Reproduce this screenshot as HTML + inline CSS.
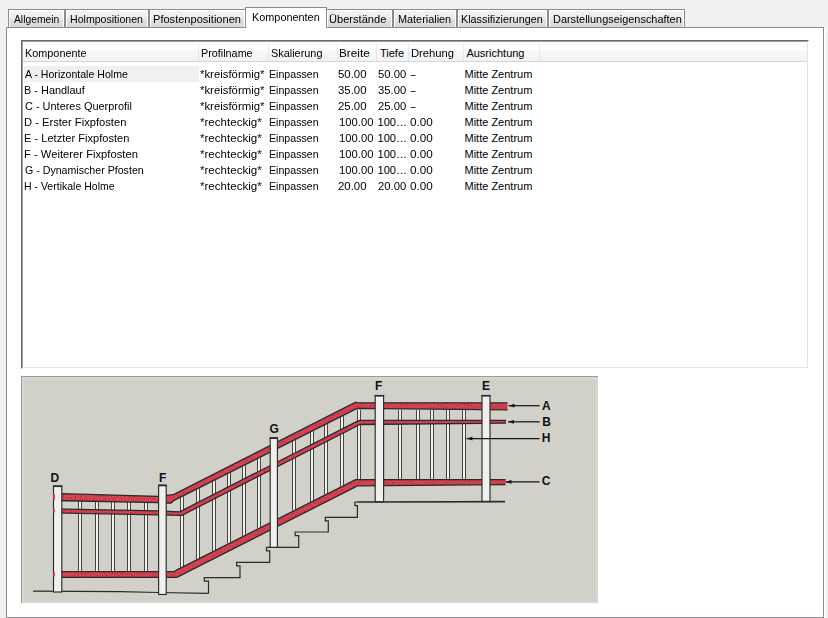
<!DOCTYPE html>
<html><head><meta charset="utf-8">
<style>
*{box-sizing:border-box;margin:0;padding:0}
html,body{width:828px;height:618px;overflow:hidden;background:#f0f0f0;font-family:"Liberation Sans",sans-serif;font-size:11px;color:#000}
span{position:absolute;white-space:nowrap;line-height:13px;transform-origin:0 0}
.tab{position:absolute;top:9px;height:19px;border:1px solid #898c95;border-bottom:none;background:linear-gradient(#f3f3f3 0,#ececec 50%,#e1e1e1 50%,#d6d6d6 100%);box-shadow:inset 1px 1px 0 #fff,inset -1px 0 0 #fff}
.sel{position:absolute;top:7px;height:21px;left:245px;width:82px;border:1px solid #898c95;border-bottom:none;background:#fff;z-index:3}
#panel{position:absolute;left:6px;top:27px;width:818px;height:591px;border:1px solid #898c95;background:#fff;z-index:2}
#lv{position:absolute;left:21px;top:40px;width:788px;height:329px;border-top:1px solid #696969;border-left:1px solid #696969;border-right:1px solid #fff;border-bottom:1px solid #fff;z-index:4}
#lvi{position:absolute;left:0;top:0;right:0;bottom:0;border-top:1px solid #a0a0a0;border-left:1px solid #a0a0a0;border-right:1px solid #e3e3e3;border-bottom:1px solid #e3e3e3;background:#fff}
#hdr{position:absolute;left:0;top:0;right:0;height:20px;background:linear-gradient(#fff 0,#fff 40%,#f7f8f9 45%,#f1f2f4 100%);border-bottom:1px solid #d5d5d5}
.sep{position:absolute;top:1px;width:1px;height:18px;background:linear-gradient(#eceef0,#e0e2e5)}
#selrow{position:absolute;left:1px;top:24px;width:175px;height:16px;background:#f0f0f0}
#rs{position:absolute;left:824px;top:27px;width:2px;height:591px;background:#fbfbfb}

</style></head><body>
<div class="tab" style="left:8px;width:57px"><span class="t" style="left:5.0px;top:3px;transform:scaleX(0.936)">Allgemein</span></div>
<div class="tab" style="left:65px;width:84px"><span class="t" style="left:3.74px;top:3px;transform:scaleX(0.962)">Holmpositionen</span></div>
<div class="tab" style="left:149px;width:97px"><span class="t" style="left:3.29px;top:3px;transform:scaleX(1.006)">Pfostenpositionen</span></div>
<div class="tab" style="left:326px;width:67px"><span class="t" style="left:2.19px;top:3px;transform:scaleX(1.009)">Überstände</span></div>
<div class="tab" style="left:393px;width:64px"><span class="t" style="left:3.81px;top:3px;transform:scaleX(0.988)">Materialien</span></div>
<div class="tab" style="left:457px;width:91px"><span class="t" style="left:3.15px;top:3px;transform:scaleX(0.982)">Klassifizierungen</span></div>
<div class="tab" style="left:548px;width:137px"><span class="t" style="left:4.02px;top:3px;transform:scaleX(0.993)">Darstellungseigenschaften</span></div>
<div class="sel"><span class="t" style="left:5.61px;top:3px;transform:scaleX(0.988)">Komponenten</span></div>
<div id="panel"></div><div id="rs"></div>
<div id="lv"><div id="lvi">
<div id="hdr">
<div class="sep" style="left:175px"></div>
<div class="sep" style="left:245px"></div>
<div class="sep" style="left:314px"></div>
<div class="sep" style="left:353px"></div>
<div class="sep" style="left:385px"></div>
<div class="sep" style="left:440px"></div>
<div class="sep" style="left:516px"></div>
<span class="h" style="left:1.81px;top:5px;transform:scaleX(0.987)">Komponente</span>
<span class="h" style="left:177.92px;top:5px;transform:scaleX(0.982)">Profilname</span>
<span class="h" style="left:247.81px;top:5px;transform:scaleX(0.990)">Skalierung</span>
<span class="h" style="left:316.23px;top:5px;transform:scaleX(1.069)">Breite</span>
<span class="h" style="left:357.0px;top:5px">Tiefe</span>
<span class="h" style="left:387.58px;top:5px;transform:scaleX(1.020)">Drehung</span>
<span class="h" style="left:443.4px;top:5px">Ausrichtung</span>
</div>
<div id="selrow"></div>
<span class="r" style="left:1.9px;top:26px;transform:scaleX(0.961)">A - Horizontale Holme</span>
<span class="r" style="left:177.08px;top:26px;transform:scaleX(1.033)">*kreisförmig*</span>
<span class="r" style="left:246.41px;top:26px;transform:scaleX(0.965)">Einpassen</span>
<span class="r" style="left:315.38px;top:26px;transform:scaleX(1.035)">50.00</span>
<span class="r" style="left:354.59px;top:26px;transform:scaleX(1.023)">50.00</span>
<span class="r" style="left:387.0px;top:26px;transform:scaleX(1.700)">-</span>
<span class="r" style="left:441.5px;top:26px">Mitte Zentrum</span>
<span class="r" style="left:1.01px;top:42px;transform:scaleX(0.993)">B - Handlauf</span>
<span class="r" style="left:177.08px;top:42px;transform:scaleX(1.033)">*kreisförmig*</span>
<span class="r" style="left:246.41px;top:42px;transform:scaleX(0.965)">Einpassen</span>
<span class="r" style="left:315.38px;top:42px;transform:scaleX(1.035)">35.00</span>
<span class="r" style="left:354.59px;top:42px;transform:scaleX(1.023)">35.00</span>
<span class="r" style="left:387.0px;top:42px;transform:scaleX(1.700)">-</span>
<span class="r" style="left:441.5px;top:42px">Mitte Zentrum</span>
<span class="r" style="left:2.0px;top:58px;transform:scaleX(0.994)">C - Unteres Querprofil</span>
<span class="r" style="left:177.08px;top:58px;transform:scaleX(1.033)">*kreisförmig*</span>
<span class="r" style="left:246.41px;top:58px;transform:scaleX(0.965)">Einpassen</span>
<span class="r" style="left:315.38px;top:58px;transform:scaleX(1.035)">25.00</span>
<span class="r" style="left:354.59px;top:58px;transform:scaleX(1.023)">25.00</span>
<span class="r" style="left:387.0px;top:58px;transform:scaleX(1.700)">-</span>
<span class="r" style="left:441.5px;top:58px">Mitte Zentrum</span>
<span class="r" style="left:0.98px;top:74px;transform:scaleX(1.015)">D - Erster Fixpfosten</span>
<span class="r" style="left:177.07px;top:74px;transform:scaleX(1.051)">*rechteckig*</span>
<span class="r" style="left:246.41px;top:74px;transform:scaleX(0.965)">Einpassen</span>
<span class="r" style="left:315.58px;top:74px;transform:scaleX(1.022)">100.00</span>
<span class="r" style="left:354.6px;top:74px">100…</span>
<span class="r" style="left:386.7px;top:74px;transform:scaleX(1.065)">0.00</span>
<span class="r" style="left:441.5px;top:74px">Mitte Zentrum</span>
<span class="r" style="left:0.99px;top:90px;transform:scaleX(1.008)">E - Letzter Fixpfosten</span>
<span class="r" style="left:177.07px;top:90px;transform:scaleX(1.051)">*rechteckig*</span>
<span class="r" style="left:246.41px;top:90px;transform:scaleX(0.965)">Einpassen</span>
<span class="r" style="left:315.58px;top:90px;transform:scaleX(1.022)">100.00</span>
<span class="r" style="left:354.6px;top:90px">100…</span>
<span class="r" style="left:386.7px;top:90px;transform:scaleX(1.065)">0.00</span>
<span class="r" style="left:441.5px;top:90px">Mitte Zentrum</span>
<span class="r" style="left:0.98px;top:106px;transform:scaleX(1.020)">F - Weiterer Fixpfosten</span>
<span class="r" style="left:177.07px;top:106px;transform:scaleX(1.051)">*rechteckig*</span>
<span class="r" style="left:246.41px;top:106px;transform:scaleX(0.965)">Einpassen</span>
<span class="r" style="left:315.58px;top:106px;transform:scaleX(1.022)">100.00</span>
<span class="r" style="left:354.6px;top:106px">100…</span>
<span class="r" style="left:386.7px;top:106px;transform:scaleX(1.065)">0.00</span>
<span class="r" style="left:441.5px;top:106px">Mitte Zentrum</span>
<span class="r" style="left:2.0px;top:122px;transform:scaleX(0.966)">G - Dynamischer Pfosten</span>
<span class="r" style="left:177.07px;top:122px;transform:scaleX(1.051)">*rechteckig*</span>
<span class="r" style="left:246.41px;top:122px;transform:scaleX(0.965)">Einpassen</span>
<span class="r" style="left:315.58px;top:122px;transform:scaleX(1.022)">100.00</span>
<span class="r" style="left:354.6px;top:122px">100…</span>
<span class="r" style="left:386.7px;top:122px;transform:scaleX(1.065)">0.00</span>
<span class="r" style="left:441.5px;top:122px">Mitte Zentrum</span>
<span class="r" style="left:1.04px;top:138px;transform:scaleX(0.956)">H - Vertikale Holme</span>
<span class="r" style="left:177.07px;top:138px;transform:scaleX(1.051)">*rechteckig*</span>
<span class="r" style="left:246.41px;top:138px;transform:scaleX(0.965)">Einpassen</span>
<span class="r" style="left:315.38px;top:138px;transform:scaleX(1.035)">20.00</span>
<span class="r" style="left:354.59px;top:138px;transform:scaleX(1.023)">20.00</span>
<span class="r" style="left:386.7px;top:138px;transform:scaleX(1.065)">0.00</span>
<span class="r" style="left:441.5px;top:138px">Mitte Zentrum</span>
</div></div>
<svg width="577" height="227" viewBox="21 376 577 227" style="position:absolute;left:21px;top:376px;z-index:5">
<defs><filter id="nz" x="0" y="0" width="100%" height="100%"><feTurbulence type="fractalNoise" baseFrequency="0.9" numOctaves="2" seed="3" result="n"/><feColorMatrix in="n" type="matrix" values="0 0 0 0 0  0 0 0 0 0  0 0 0 0 0  0 0 0 -2.2 1.25" result="a"/><feComposite in="SourceGraphic" in2="a" operator="in"/></filter></defs>
<rect x="21" y="376" width="577" height="227" fill="#d1d1c9"/>
<rect x="22" y="377" width="2" height="226" fill="#d7d7cf"/>
<rect x="22" y="377" width="576" height="2" fill="#d7d7cf"/>
<rect x="596" y="377" width="2" height="226" fill="#d7d7cf"/>
<rect x="22" y="601" width="576" height="2" fill="#d7d7cf"/>
<rect x="21" y="376" width="577" height="1" fill="#9c9c9c"/>
<rect x="21" y="376" width="1" height="227" fill="#9c9c9c"/>
<polyline points="33.0,591.2 120.0,591.6 158.0,592.5 208.5,593.4" stroke="#2a2a2a" stroke-width="1.2" fill="none"/>
<polyline points="208.5,593.4 208.5,581.2 204.3,581.2 204.3,577.6 240.0,577.6 240.0,565.9 236.6,565.9 236.6,562.3 269.7,562.3 269.7,550.9 266.5,550.9 266.5,547.3 298.7,547.3 298.7,535.6 295.2,535.6 295.2,532.0 328.3,532.0 328.3,520.9 325.3,520.9 325.3,517.3 357.4,517.3 357.4,505.6 354.9,505.6 354.9,502.0 505.0,502.0" stroke="#2a2a2a" stroke-width="1.2" fill="none"/>
<rect x="78.5" y="501.0" width="3.0" height="70.6" fill="#f0f0ee"/><line x1="78.5" y1="501.0" x2="78.5" y2="571.6" stroke="#2a2a2a" stroke-width="0.95" opacity="0.9"/><line x1="81.5" y1="501.0" x2="81.5" y2="571.6" stroke="#2a2a2a" stroke-width="0.95" opacity="0.9"/>
<rect x="95.5" y="501.4" width="3.0" height="70.2" fill="#f0f0ee"/><line x1="95.5" y1="501.4" x2="95.5" y2="571.6" stroke="#2a2a2a" stroke-width="0.95" opacity="0.9"/><line x1="98.5" y1="501.4" x2="98.5" y2="571.6" stroke="#2a2a2a" stroke-width="0.95" opacity="0.9"/>
<rect x="111.5" y="501.7" width="3.0" height="69.9" fill="#f0f0ee"/><line x1="111.5" y1="501.7" x2="111.5" y2="571.6" stroke="#2a2a2a" stroke-width="0.95" opacity="0.9"/><line x1="114.5" y1="501.7" x2="114.5" y2="571.6" stroke="#2a2a2a" stroke-width="0.95" opacity="0.9"/>
<rect x="127.5" y="502.0" width="3.0" height="69.6" fill="#f0f0ee"/><line x1="127.5" y1="502.0" x2="127.5" y2="571.6" stroke="#2a2a2a" stroke-width="0.95" opacity="0.9"/><line x1="130.5" y1="502.0" x2="130.5" y2="571.6" stroke="#2a2a2a" stroke-width="0.95" opacity="0.9"/>
<rect x="144.5" y="502.3" width="3.0" height="69.3" fill="#f0f0ee"/><line x1="144.5" y1="502.3" x2="144.5" y2="571.6" stroke="#2a2a2a" stroke-width="0.95" opacity="0.9"/><line x1="147.5" y1="502.3" x2="147.5" y2="571.6" stroke="#2a2a2a" stroke-width="0.95" opacity="0.9"/>
<rect x="180.5" y="496.4" width="3.0" height="71.0" fill="#f0f0ee"/><line x1="180.5" y1="496.4" x2="180.5" y2="567.3" stroke="#2a2a2a" stroke-width="0.95" opacity="0.9"/><line x1="183.5" y1="496.4" x2="183.5" y2="567.3" stroke="#2a2a2a" stroke-width="0.95" opacity="0.9"/>
<rect x="196.5" y="488.2" width="3.0" height="70.9" fill="#f0f0ee"/><line x1="196.5" y1="488.2" x2="196.5" y2="559.1" stroke="#2a2a2a" stroke-width="0.95" opacity="0.9"/><line x1="199.5" y1="488.2" x2="199.5" y2="559.1" stroke="#2a2a2a" stroke-width="0.95" opacity="0.9"/>
<rect x="212.5" y="480.3" width="3.0" height="70.9" fill="#f0f0ee"/><line x1="212.5" y1="480.3" x2="212.5" y2="551.2" stroke="#2a2a2a" stroke-width="0.95" opacity="0.9"/><line x1="215.5" y1="480.3" x2="215.5" y2="551.2" stroke="#2a2a2a" stroke-width="0.95" opacity="0.9"/>
<rect x="227.5" y="472.7" width="3.0" height="70.8" fill="#f0f0ee"/><line x1="227.5" y1="472.7" x2="227.5" y2="543.5" stroke="#2a2a2a" stroke-width="0.95" opacity="0.9"/><line x1="230.5" y1="472.7" x2="230.5" y2="543.5" stroke="#2a2a2a" stroke-width="0.95" opacity="0.9"/>
<rect x="242.5" y="465.2" width="3.0" height="70.8" fill="#f0f0ee"/><line x1="242.5" y1="465.2" x2="242.5" y2="536.0" stroke="#2a2a2a" stroke-width="0.95" opacity="0.9"/><line x1="245.5" y1="465.2" x2="245.5" y2="536.0" stroke="#2a2a2a" stroke-width="0.95" opacity="0.9"/>
<rect x="257.5" y="457.5" width="3.0" height="70.7" fill="#f0f0ee"/><line x1="257.5" y1="457.5" x2="257.5" y2="528.2" stroke="#2a2a2a" stroke-width="0.95" opacity="0.9"/><line x1="260.5" y1="457.5" x2="260.5" y2="528.2" stroke="#2a2a2a" stroke-width="0.95" opacity="0.9"/>
<rect x="292.5" y="440.1" width="3.0" height="70.6" fill="#f0f0ee"/><line x1="292.5" y1="440.1" x2="292.5" y2="510.7" stroke="#2a2a2a" stroke-width="0.95" opacity="0.9"/><line x1="295.5" y1="440.1" x2="295.5" y2="510.7" stroke="#2a2a2a" stroke-width="0.95" opacity="0.9"/>
<rect x="310.5" y="431.3" width="3.0" height="70.6" fill="#f0f0ee"/><line x1="310.5" y1="431.3" x2="310.5" y2="501.9" stroke="#2a2a2a" stroke-width="0.95" opacity="0.9"/><line x1="313.5" y1="431.3" x2="313.5" y2="501.9" stroke="#2a2a2a" stroke-width="0.95" opacity="0.9"/>
<rect x="324.5" y="424.1" width="3.0" height="70.5" fill="#f0f0ee"/><line x1="324.5" y1="424.1" x2="324.5" y2="494.6" stroke="#2a2a2a" stroke-width="0.95" opacity="0.9"/><line x1="327.5" y1="424.1" x2="327.5" y2="494.6" stroke="#2a2a2a" stroke-width="0.95" opacity="0.9"/>
<rect x="340.5" y="415.9" width="3.0" height="70.5" fill="#f0f0ee"/><line x1="340.5" y1="415.9" x2="340.5" y2="486.4" stroke="#2a2a2a" stroke-width="0.95" opacity="0.9"/><line x1="343.5" y1="415.9" x2="343.5" y2="486.4" stroke="#2a2a2a" stroke-width="0.95" opacity="0.9"/>
<rect x="357.5" y="409.8" width="3.0" height="69.9" fill="#f0f0ee"/><line x1="357.5" y1="409.8" x2="357.5" y2="479.7" stroke="#2a2a2a" stroke-width="0.95" opacity="0.9"/><line x1="360.5" y1="409.8" x2="360.5" y2="479.7" stroke="#2a2a2a" stroke-width="0.95" opacity="0.9"/>
<rect x="398.5" y="409.8" width="3.0" height="69.9" fill="#f0f0ee"/><line x1="398.5" y1="409.8" x2="398.5" y2="479.7" stroke="#2a2a2a" stroke-width="0.95" opacity="0.9"/><line x1="401.5" y1="409.8" x2="401.5" y2="479.7" stroke="#2a2a2a" stroke-width="0.95" opacity="0.9"/>
<rect x="416.5" y="409.8" width="3.0" height="69.9" fill="#f0f0ee"/><line x1="416.5" y1="409.8" x2="416.5" y2="479.7" stroke="#2a2a2a" stroke-width="0.95" opacity="0.9"/><line x1="419.5" y1="409.8" x2="419.5" y2="479.7" stroke="#2a2a2a" stroke-width="0.95" opacity="0.9"/>
<rect x="430.5" y="409.8" width="3.0" height="69.9" fill="#f0f0ee"/><line x1="430.5" y1="409.8" x2="430.5" y2="479.7" stroke="#2a2a2a" stroke-width="0.95" opacity="0.9"/><line x1="433.5" y1="409.8" x2="433.5" y2="479.7" stroke="#2a2a2a" stroke-width="0.95" opacity="0.9"/>
<rect x="446.5" y="409.8" width="3.0" height="69.9" fill="#f0f0ee"/><line x1="446.5" y1="409.8" x2="446.5" y2="479.7" stroke="#2a2a2a" stroke-width="0.95" opacity="0.9"/><line x1="449.5" y1="409.8" x2="449.5" y2="479.7" stroke="#2a2a2a" stroke-width="0.95" opacity="0.9"/>
<rect x="462.5" y="409.8" width="3.0" height="69.9" fill="#f0f0ee"/><line x1="462.5" y1="409.8" x2="462.5" y2="479.7" stroke="#2a2a2a" stroke-width="0.95" opacity="0.9"/><line x1="465.5" y1="409.8" x2="465.5" y2="479.7" stroke="#2a2a2a" stroke-width="0.95" opacity="0.9"/>
<polygon points="53.0,493.4 158.0,496.3 166.0,495.5 171.0,494.8 174.0,494.3 355.6,402.2 357.5,402.8 507.5,402.8 507.5,409.8 357.5,408.3 355.6,409.2 174.0,500.4 171.0,503.0 166.0,503.0 158.0,502.6 53.0,500.5" fill="#dd4454"/><polygon points="53.0,493.4 158.0,496.3 166.0,495.5 171.0,494.8 174.0,494.3 355.6,402.2 357.5,402.8 507.5,402.8 507.5,409.8 357.5,408.3 355.6,409.2 174.0,500.4 171.0,503.0 166.0,503.0 158.0,502.6 53.0,500.5" fill="#000" filter="url(#nz)" opacity="0.3"/><polyline points="53.0,493.4 158.0,496.3 166.0,495.5 171.0,494.8 174.0,494.3 355.6,402.2 357.5,402.8 507.5,402.8" fill="none" stroke="#2a2a2a" stroke-width="1.3"/><polyline points="507.5,409.8 357.5,408.3 355.6,409.2 174.0,500.4 171.0,503.0 166.0,503.0 158.0,502.6 53.0,500.5" fill="none" stroke="#2a2a2a" stroke-width="1.3"/>
<polygon points="53.0,508.9 158.0,510.9 180.0,511.8 182.0,510.6 358.0,420.8 360.0,420.4 506.0,420.4 506.0,423.1 360.0,424.5 358.0,425.5 182.0,515.3 180.0,515.3 158.0,514.8 53.0,512.8" fill="#dd4454"/><polygon points="53.0,508.9 158.0,510.9 180.0,511.8 182.0,510.6 358.0,420.8 360.0,420.4 506.0,420.4 506.0,423.1 360.0,424.5 358.0,425.5 182.0,515.3 180.0,515.3 158.0,514.8 53.0,512.8" fill="#000" filter="url(#nz)" opacity="0.3"/><polyline points="53.0,508.9 158.0,510.9 180.0,511.8 182.0,510.6 358.0,420.8 360.0,420.4 506.0,420.4" fill="none" stroke="#2a2a2a" stroke-width="1.3"/><polyline points="506.0,423.1 360.0,424.5 358.0,425.5 182.0,515.3 180.0,515.3 158.0,514.8 53.0,512.8" fill="none" stroke="#2a2a2a" stroke-width="1.3"/>
<polygon points="53.0,571.6 174.3,571.6 177.0,569.8 355.5,479.7 357.5,479.7 505.5,479.7 505.5,484.6 357.5,485.8 355.5,486.9 177.0,577.3 174.3,577.3 53.0,577.3" fill="#dd4454"/><polygon points="53.0,571.6 174.3,571.6 177.0,569.8 355.5,479.7 357.5,479.7 505.5,479.7 505.5,484.6 357.5,485.8 355.5,486.9 177.0,577.3 174.3,577.3 53.0,577.3" fill="#000" filter="url(#nz)" opacity="0.3"/><polyline points="53.0,571.6 174.3,571.6 177.0,569.8 355.5,479.7 357.5,479.7 505.5,479.7" fill="none" stroke="#2a2a2a" stroke-width="1.3"/><polyline points="505.5,484.6 357.5,485.8 355.5,486.9 177.0,577.3 174.3,577.3 53.0,577.3" fill="none" stroke="#2a2a2a" stroke-width="1.3"/>
<rect x="53.5" y="486" width="8.299999999999997" height="106" fill="#f0f0ee" stroke="#2a2a2a" stroke-width="1.15"/><line x1="53.0" y1="486.3" x2="62.3" y2="486.3" stroke="#2a2a2a" stroke-width="1.6"/>
<rect x="158.6" y="485.2" width="7.599999999999994" height="109.30000000000001" fill="#f0f0ee" stroke="#2a2a2a" stroke-width="1.15"/><line x1="158.1" y1="485.5" x2="166.7" y2="485.5" stroke="#2a2a2a" stroke-width="1.6"/>
<rect x="270.2" y="437.8" width="7.199999999999989" height="109.49999999999994" fill="#f0f0ee" stroke="#2a2a2a" stroke-width="1.15"/><line x1="269.7" y1="438.1" x2="277.9" y2="438.1" stroke="#2a2a2a" stroke-width="1.6"/>
<rect x="375.2" y="395.5" width="8.400000000000034" height="106.30000000000001" fill="#f0f0ee" stroke="#2a2a2a" stroke-width="1.15"/><line x1="374.7" y1="395.8" x2="384.1" y2="395.8" stroke="#2a2a2a" stroke-width="1.6"/>
<rect x="482.0" y="395.5" width="8.0" height="106.0" fill="#f0f0ee" stroke="#2a2a2a" stroke-width="1.15"/><line x1="481.5" y1="395.8" x2="490.5" y2="395.8" stroke="#2a2a2a" stroke-width="1.6"/>
<rect x="53.2" y="494" width="1.8" height="5.5" fill="#dd4454"/>
<rect x="53.2" y="509" width="1.8" height="3.5" fill="#dd4454"/>
<rect x="53.2" y="572.5" width="1.8" height="4.0" fill="#dd4454"/>
<polyline points="357.4,502.0 505.0,501.4" stroke="#2a2a2a" stroke-width="1.2" fill="none"/>
<line x1="508.5" y1="405.7" x2="539.6" y2="405.7" stroke="#141420" stroke-width="1.25"/>
<path d="M508.5,405.7 L514.5,403.8 L514.5,407.59999999999997 Z" fill="#141420"/>
<line x1="508" y1="421.8" x2="539.6" y2="421.8" stroke="#141420" stroke-width="1.25"/>
<path d="M508,421.8 L514,419.90000000000003 L514,423.7 Z" fill="#141420"/>
<line x1="466.5" y1="438.6" x2="539.6" y2="438.6" stroke="#141420" stroke-width="1.25"/>
<path d="M466.5,438.6 L472.5,436.70000000000005 L472.5,440.5 Z" fill="#141420"/>
<line x1="505.5" y1="481.9" x2="539.6" y2="481.9" stroke="#141420" stroke-width="1.25"/>
<path d="M505.5,481.9 L511.5,480.0 L511.5,483.79999999999995 Z" fill="#141420"/>
<text x="50.5" y="481.7" font-family="Liberation Sans" font-weight="bold" font-size="12" fill="#111">D</text>
<text x="158.9" y="481.7" font-family="Liberation Sans" font-weight="bold" font-size="12" fill="#111">F</text>
<text x="269.6" y="433.4" font-family="Liberation Sans" font-weight="bold" font-size="12" fill="#111">G</text>
<text x="375.0" y="390.4" font-family="Liberation Sans" font-weight="bold" font-size="12" fill="#111">F</text>
<text x="481.9" y="390.4" font-family="Liberation Sans" font-weight="bold" font-size="12" fill="#111">E</text>
<text x="542.0" y="409.7" font-family="Liberation Sans" font-weight="bold" font-size="12" fill="#111">A</text>
<text x="542.3" y="425.6" font-family="Liberation Sans" font-weight="bold" font-size="12" fill="#111">B</text>
<text x="541.8" y="442.1" font-family="Liberation Sans" font-weight="bold" font-size="12" fill="#111">H</text>
<text x="541.7" y="485.3" font-family="Liberation Sans" font-weight="bold" font-size="12" fill="#111">C</text>
</svg>
</body></html>
